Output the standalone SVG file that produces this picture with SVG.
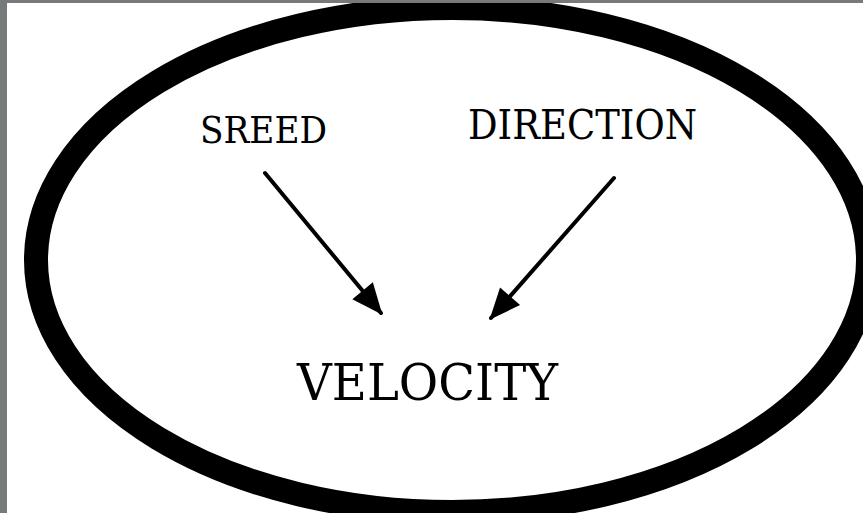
<svg xmlns="http://www.w3.org/2000/svg" width="863" height="513" viewBox="0 0 863 513">
<style>
.lbl{font-family:"DejaVu Serif","Liberation Serif",serif;fill:#000;}
.conn{stroke:#000;stroke-width:4;fill:none;stroke-linecap:round;}
</style>
<defs>
<marker id="ah" markerUnits="userSpaceOnUse" markerWidth="40" markerHeight="40" viewBox="-32 -16 36 32" refX="0" refY="0" orient="auto">
<path d="M2,0 L-26,-12 L-26,12 Z" fill="#000"/>
</marker>
</defs>
<rect x="0" y="0" width="863" height="513" fill="#fff"/>
<g id="frame">
<ellipse cx="452" cy="260" rx="416" ry="252" fill="none" stroke="#000" stroke-width="24"/>
</g>
<g id="speed"><text class="lbl" x="200" y="143" font-size="38" textLength="127" lengthAdjust="spacingAndGlyphs">SREED</text></g>
<g id="direction"><text class="lbl" x="468" y="139" font-size="41" textLength="229" lengthAdjust="spacingAndGlyphs">DIRECTION</text></g>
<g id="velocity"><text class="lbl" x="297" y="400" font-size="51" textLength="261" lengthAdjust="spacingAndGlyphs">VELOCITY</text></g>
<g id="connectors">
<line class="conn" x1="265" y1="173" x2="381" y2="313" marker-end="url(#ah)"/>
<line class="conn" x1="614" y1="178" x2="491" y2="318" marker-end="url(#ah)"/>
</g>
<g id="border">
<rect x="0" y="0" width="863" height="3" fill="#767a7a"/>
<rect x="0" y="0" width="7" height="513" fill="#767a7a"/>
</g>
</svg>
